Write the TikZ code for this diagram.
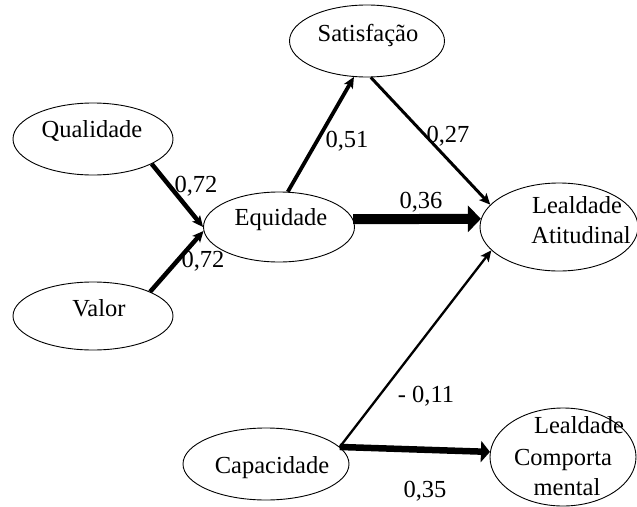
\documentclass[tikz,border=0pt]{standalone}
\usepackage{fontspec}
\setmainfont{Liberation Serif}
\usetikzlibrary{arrows.meta,shapes.geometric}
\begin{document}
\begin{tikzpicture}[x=1pt,y=-1pt,
  construct/.style={draw,ellipse,line width=0.9pt,inner sep=0pt},
  txt/.style={anchor=base,inner sep=0pt,font=\fontsize{24.5}{29}\selectfont},
  coef/.style={anchor=base,inner sep=0pt,font=\fontsize{24.5}{29}\selectfont},
  path/.style={-{Stealth[length=11pt,width=10pt,inset=2.5pt]}},
  heavy/.style={-{Triangle[length=13pt,width=26pt]}}]
\useasboundingbox (0,0) rectangle (637,506);

% constructs
\node[construct,minimum width=160pt,minimum height=72pt] (q)  at (93,139)  {};
\node[construct,minimum width=160pt,minimum height=68pt] (v)  at (93,316)  {};
\node[construct,minimum width=151pt,minimum height=70pt] (e)  at (279,227) {};
\node[construct,minimum width=155pt,minimum height=72pt] (s)  at (367,41)  {};
\node[construct,minimum width=158pt,minimum height=88pt] (la) at (559,227) {};
\node[construct,minimum width=166pt,minimum height=72pt] (c)  at (266,464) {};
\node[construct,minimum width=146pt,minimum height=98pt] (lc) at (563,457) {};

% construct names
\node[txt] (tq)  at (92,137)  {Qualidade};
\node[txt] (tv)  at (99,316)  {Valor};
\node[txt] (te)  at (281,225) {Equidade};
\node[txt] (ts)  at (368,41)  {Satisfação};
\node[txt] (tc)  at (272,473) {Capacidade};
\node[txt] (tla1) at (577,213) {Lealdade};
\node[txt] (tla2) at (581,243) {Atitudinal};
\node[txt] (tlc1) at (579,433) {Lealdade};
\node[txt] (tlc2) at (563,465) {Comporta};
\node[txt] (tlc3) at (567,495) {mental};

% structural paths
\draw[path,line width=4.5pt] (q.-23) -- (e.180);
\draw[path,line width=4.5pt] (v.23) -- (e.183);
\draw[path,line width=3.8pt] (e.76) -- (s.250);
\draw[path,line width=3pt] (s.276) -- (la.162);
\draw[heavy,line width=10pt] (e.6) -- (la.174);
\draw[path,line width=2.3pt] (c.13) -- (la.199);
\draw[-{Triangle[length=9pt,width=21pt]},line width=6.5pt] (c.13) -- (lc.176);

% path coefficients
\node[coef] (k1) at (196,192) {0,72};
\node[coef] (k2) at (203,267) {0,72};
\node[coef] (k3) at (347,147) {0,51};
\node[coef] (k4) at (448,142) {0,27};
\node[coef] (k5) at (421,208) {0,36};
\node[coef] (k6) at (426,402) {- 0,11};
\node[coef] (k7) at (425,497) {0,35};
\end{tikzpicture}
\end{document}
